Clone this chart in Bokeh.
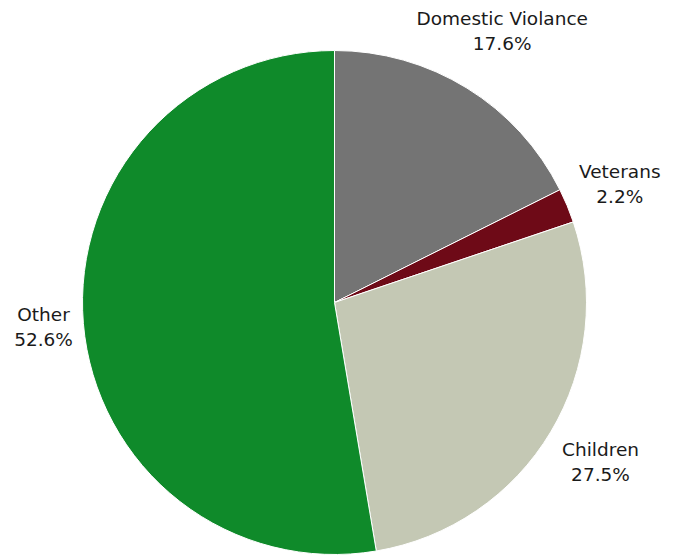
import math
from bokeh.plotting import figure
from bokeh.models import ColumnDataSource, Range1d
from bokeh.core.properties import value
from bokeh.embed import file_html
from bokeh.resources import INLINE

# Data
categories = ["Domestic Violance", "Veterans", "Children", "Other"]
shares = [17.6, 2.2, 27.5, 52.6]
colors = ["#747474", "#6e0a17", "#c4c8b4", "#0f8a2a"]

# Layout
W, H = 679, 555
cx, cy = 334, 253
R = 252
label_r = [319, 309, 310, 292]

total = sum(shares)
starts, ends, mids = [], [], []
acc = 0.0
for s in shares:
    a0 = math.pi / 2 - 2 * math.pi * acc / total
    acc += s
    a1 = math.pi / 2 - 2 * math.pi * acc / total
    starts.append(a1)
    ends.append(a0)
    mids.append((a0 + a1) / 2)

src = ColumnDataSource(dict(start=starts, end=ends, color=colors, cat=categories))

p = figure(width=W, height=H, output_backend="svg", toolbar_location=None,
           x_range=Range1d(0, W), y_range=Range1d(0, H), min_border=0)
p.axis.visible = False
p.grid.visible = False
p.outline_line_color = None
p.background_fill_color = "white"

p.wedge(x=cx, y=cy, radius=R, start_angle="start", end_angle="end",
        fill_color="color", line_color="white", line_width=1, source=src)

lx, ly, lt = [], [], []
for m, r, c, s in zip(mids, label_r, categories, shares):
    lx.append(cx + r * math.cos(m))
    ly.append(cy + r * math.sin(m))
    lt.append(f"{c}\n{s:.1f}%")

lsrc = ColumnDataSource(dict(x=lx, y=ly, t=lt))
p.text(x="x", y="y", text="t", source=lsrc, text_align="center",
       text_baseline="middle", text_font=value("DejaVu Sans"),
       text_font_size="18.5px", text_color="#1a1a1a", text_line_height=1.18)

open("out.html", "w").write(file_html(p, INLINE))
